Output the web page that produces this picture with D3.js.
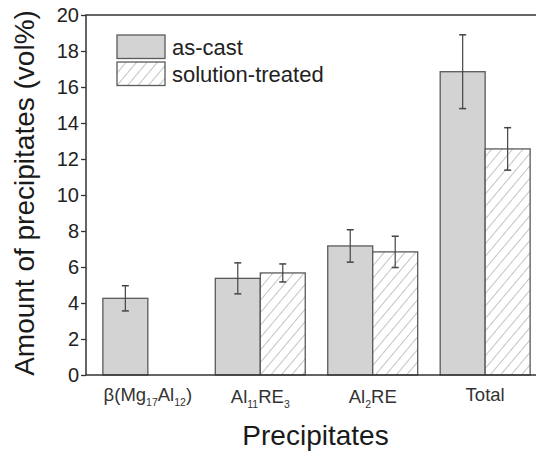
<!DOCTYPE html>
<html>
<head>
<meta charset="utf-8">
<script src="https://cdn.jsdelivr.net/npm/d3@7"></script>
<style>
  html, body { margin: 0; padding: 0; background: #fff; }
  svg { display: block; }
  text { font-family: "Liberation Sans", Arial, sans-serif; }
</style>
</head>
<body>
<div id="chart"></div>
<script>
// precipitates bar chart: as-cast vs solution-treated

const categories = ['beta', 'Al11RE3', 'Al2RE', 'Total'];
// label parts: [text, isSubscript]
const catLabels = [
  [['β(Mg', false], ['17', true], ['Al', false], ['12', true], [')', false]],
  [['Al', false], ['11', true], ['RE', false], ['3', true]],
  [['Al', false], ['2', true], ['RE', false]],
  [['Total', false]],
];
const seriesNames = ['as-cast', 'solution-treated'];
const asCast     = [4.26, 5.37, 7.17, 16.85];
const asCastErr  = [0.70, 0.86, 0.90, 2.05];
const solTreated    = [null, 5.67, 6.84, 12.56];
const solTreatedErr = [null, 0.50, 0.87, 1.18];
const yTicks = [0, 2, 4, 6, 8, 10, 12, 14, 16, 18, 20];

const W = 536, H = 454;
const M = { top: 15, left: 86, bottom: 79 };
const plotRight = 547;
const iH = H - M.top - M.bottom;
const FONT = '"Liberation Sans", Arial, sans-serif';

const svg = d3.select('#chart').append('svg')
  .attr('width', W).attr('height', H);

const defs = svg.append('defs');
const pat = defs.append('pattern')
  .attr('id', 'hatch')
  .attr('patternUnits', 'userSpaceOnUse')
  .attr('width', 8).attr('height', 8)
  .attr('patternTransform', 'rotate(40)');
pat.append('rect').attr('width', 8).attr('height', 8).attr('fill', '#fff');
pat.append('line')
  .attr('x1', 0).attr('y1', 0).attr('x2', 0).attr('y2', 8)
  .attr('stroke', '#8a8a8a').attr('stroke-width', 1);

const x = d3.scalePoint().domain(categories).range([M.left, plotRight]).padding(0.55);
const y = d3.scaleLinear().domain([0, 20]).range([M.top + iH, M.top]);
const barW = x.step() * 0.4;

const g = svg.append('g');

const rows = categories.map((c, i) => [
  { cat: c, s: 0, v: asCast[i], e: asCastErr[i] },
  { cat: c, s: 1, v: solTreated[i], e: solTreatedErr[i] },
]).flat().filter(d => d.v != null);

g.selectAll('.bar').data(rows).join('rect')
  .attr('class', 'bar')
  .attr('x', d => d.s === 0 ? x(d.cat) - barW : x(d.cat))
  .attr('y', d => y(d.v))
  .attr('width', barW)
  .attr('height', d => y(0) - y(d.v))
  .attr('fill', d => d.s === 0 ? '#d3d3d3' : 'url(#hatch)')
  .attr('stroke', '#5a5a5a').attr('stroke-width', 1.3);

// error bars
const eb = g.selectAll('.err').data(rows).join('g').attr('class', 'err')
  .attr('transform', d => `translate(${d.s === 0 ? x(d.cat) - barW / 2 : x(d.cat) + barW / 2},0)`);
eb.append('line')
  .attr('y1', d => y(d.v + d.e)).attr('y2', d => y(d.v - d.e))
  .attr('stroke', '#444').attr('stroke-width', 1.2);
eb.append('line')
  .attr('x1', -3.5).attr('x2', 3.5)
  .attr('y1', d => y(d.v + d.e)).attr('y2', d => y(d.v + d.e))
  .attr('stroke', '#444').attr('stroke-width', 1.5);
eb.append('line')
  .attr('x1', -3.5).attr('x2', 3.5)
  .attr('y1', d => y(d.v - d.e)).attr('y2', d => y(d.v - d.e))
  .attr('stroke', '#444').attr('stroke-width', 1.5);

// frame
svg.append('rect')
  .attr('x', M.left).attr('y', M.top)
  .attr('width', plotRight - M.left).attr('height', iH)
  .attr('fill', 'none').attr('stroke', '#333').attr('stroke-width', 1.5);

// y axis
svg.append('g').attr('transform', `translate(${M.left},0)`)
  .call(d3.axisLeft(y).tickValues(yTicks).tickSize(5).tickPadding(2))
  .call(ax => ax.select('.domain').remove())
  .call(ax => ax.selectAll('line').attr('stroke', '#333').attr('stroke-width', 1.3))
  .call(ax => ax.selectAll('text').attr('fill', '#222').attr('font-size', 20)
    .attr('font-family', FONT));

// x category labels
const labelBase = [401, 402.5, 403, 400.5];
catLabels.forEach((parts, i) => {
  const t = svg.append('text')
    .attr('x', x(categories[i])).attr('y', labelBase[i])
    .attr('text-anchor', 'middle')
    .attr('fill', '#333').attr('font-size', 18.5);
  parts.forEach(([txt, sub], j) => {
    const prevSub = j > 0 && parts[j - 1][1];
    const ts = t.append('tspan').text(txt);
    if (sub) ts.attr('font-size', 10.5).attr('dy', 5);
    else if (prevSub) ts.attr('dy', -5);
  });
});

// axis titles
svg.append('text')
  .attr('transform', `translate(33.5,193) rotate(-90)`)
  .attr('text-anchor', 'middle').attr('fill', '#1a1a1a').attr('font-size', 28)
  .text('Amount of precipitates (vol%)');
svg.append('text')
  .attr('x', 315.5).attr('y', 445)
  .attr('text-anchor', 'middle').attr('fill', '#1a1a1a').attr('font-size', 28)
  .text('Precipitates');

// legend
const leg = svg.append('g').attr('transform', 'translate(117,35)');
seriesNames.forEach((n, i) => {
  leg.append('rect')
    .attr('x', 0).attr('y', i * 27)
    .attr('width', 48).attr('height', 23.5)
    .attr('fill', i === 0 ? '#d3d3d3' : 'url(#hatch)')
    .attr('stroke', '#5a5a5a').attr('stroke-width', 1.3);
  leg.append('text')
    .attr('x', 55).attr('y', i * 26.7 + 20)
    .attr('fill', '#222').attr('font-size', 22)
    .text(n);
});
</script>
</body>
</html>
